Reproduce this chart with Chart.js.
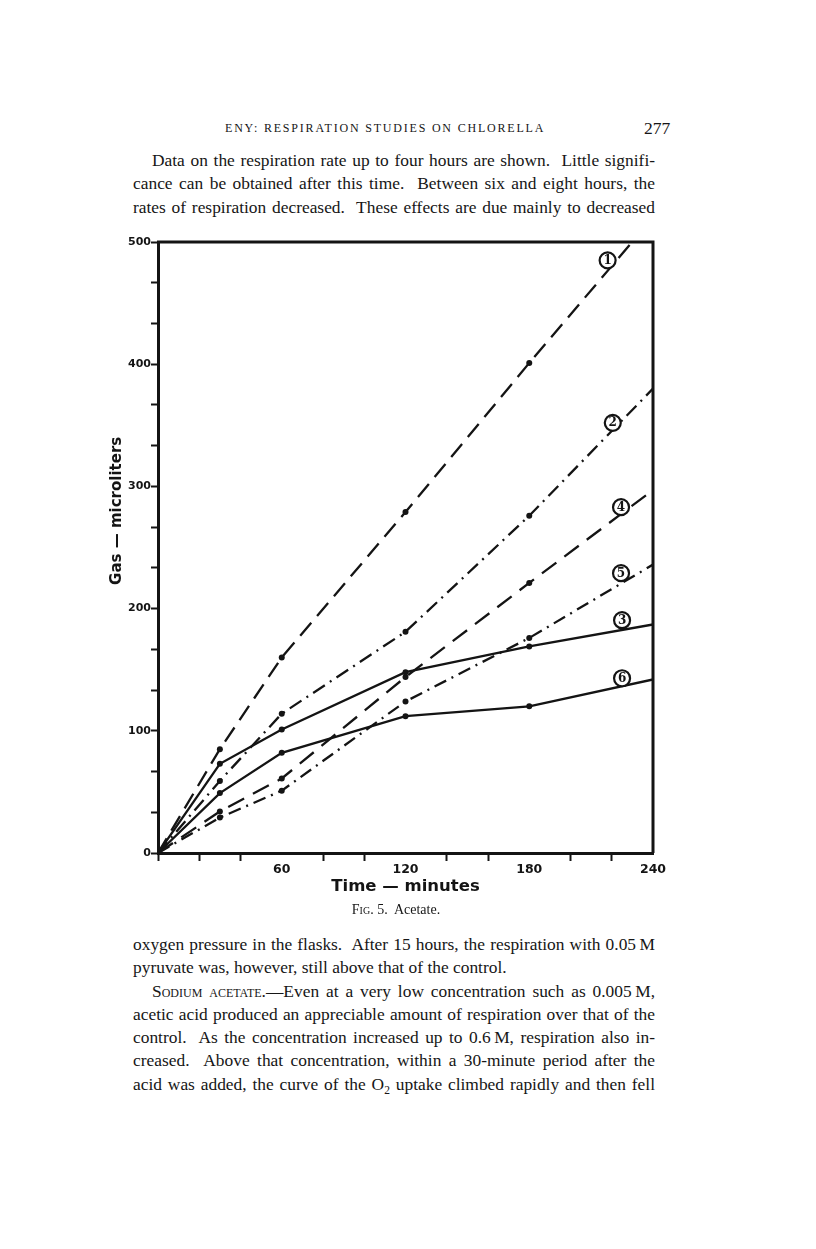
<!DOCTYPE html>
<html>
<head>
<meta charset="utf-8">
<title>Fig. 5. Acetate</title>
<script src="https://cdn.jsdelivr.net/npm/chart.js@4.4.1/dist/chart.umd.min.js"></script>
<style>
  html, body { margin: 0; padding: 0; background: #fff; }
  body { width: 816px; height: 1249px; position: relative; overflow: hidden; color: #161616; font-family: "Liberation Serif", "DejaVu Serif", serif; }
  .runhead { position: absolute; top: 121px; left: 225px; font-size: 12px; letter-spacing: 1.8px; white-space: nowrap; }
  .folio { position: absolute; top: 118px; left: 644px; font-size: 17.5px; }
  .block { position: absolute; left: 133px; width: 522px; font-size: 17.4px; line-height: 23.3px; }
  .block div { white-space: nowrap; text-align: justify; text-align-last: justify; }
  .block div.ind { padding-left: 19px; }
  .block div.end { text-align-last: left; }
  .sc { font-variant: small-caps; }
  sub { font-size: 11.5px; line-height: 0; }
  .caption { position: absolute; top: 902px; left: 0; width: 792px; text-align: center; font-size: 14px; }
  #wrap { position: absolute; left: 90px; top: 225px; width: 580px; height: 690px; }
</style>
</head>
<body>
  <div class="runhead">ENY: RESPIRATION STUDIES ON CHLORELLA</div>
  <div class="folio">277</div>

  <div class="block" style="top:149px">
    <div class="ind">Data on the respiration rate up to four hours are shown.&nbsp; Little signifi-</div>
    <div>cance can be obtained after this time.&nbsp; Between six and eight hours, the</div>
    <div>rates of respiration decreased.&nbsp; These effects are due mainly to decreased</div>
  </div>

  <div id="wrap"><canvas id="chart" width="580" height="690"></canvas></div>

  <div class="caption"><span class="sc">Fig.</span> 5.&nbsp; Acetate.</div>

  <div class="block" style="top:933px">
    <div>oxygen pressure in the flasks.&nbsp; After 15 hours, the respiration with 0.05&#8201;M</div>
    <div class="end">pyruvate was, however, still above that of the control.</div>
    <div class="ind"><span class="sc">Sodium acetate</span>.—Even at a very low concentration such as 0.005&#8201;M,</div>
    <div>acetic acid produced an appreciable amount of respiration over that of the</div>
    <div>control.&nbsp; As the concentration increased up to 0.6&#8201;M, respiration also in-</div>
    <div>creased.&nbsp; Above that concentration, within a 30-minute period after the</div>
    <div>acid was added, the curve of the O<sub>2</sub> uptake climbed rapidly and then fell</div>
  </div>

<script>
  'use strict';

  // Time axis (minutes) and gas uptake (microliters) for the six curves
  const minutes = [0, 30, 60, 120, 180, 240];
  const curve1 = [0, 85, 160, 279, 401, 520];
  const curve2 = [0, 59, 114, 181, 276, 380];
  const curve3 = [0, 73, 101, 148, 169, 187];
  const curve4 = [0, 34, 61, 144, 221, 297];
  const curve5 = [0, 29, 51, 124, 176, 236];
  const curve6 = [0, 49, 82, 112, 120, 142];

  const curveNames = ['1', '2', '3', '4', '5', '6'];
  // where each circled number sits, in [minutes, microliters]
  const labelAt = [[218, 485], [220.5, 352], [225, 190.5], [224.5, 283], [224.5, 229], [225, 143]];

  const xLabelled = [60, 120, 180, 240];
  const yLabelled = [0, 100, 200, 300, 400, 500];

  const INK = '#141414';
  const dashes = [[17, 9], [14, 6, 2, 6], [], [18, 10], [13, 6, 2, 6], []];

  const yTicks = [];
  for (let i = 0; i <= 15; i++) yTicks.push(i * 100 / 3);

  const isYLabel = (v) => yLabelled.some((l) => Math.abs(l - v) < 1e-6);
  const markerRadius = (ctx) => (ctx.dataIndex === 0 || ctx.dataIndex === minutes.length - 1) ? 0 : 3;

  const series = [curve1, curve2, curve3, curve4, curve5, curve6];

  const frameAndLabels = {
    id: 'frameAndLabels',
    afterDatasetsDraw(chart) {
      const { ctx, chartArea: a, scales: { x, y } } = chart;
      ctx.save();
      ctx.strokeStyle = INK;
      ctx.lineWidth = 3;
      ctx.beginPath();
      ctx.moveTo(a.left - 1, a.top);
      ctx.lineTo(a.right, a.top);
      ctx.lineTo(a.right, a.bottom);
      ctx.stroke();

      curveNames.forEach((name, i) => {
        const px = x.getPixelForValue(labelAt[i][0]);
        const py = y.getPixelForValue(labelAt[i][1]);
        ctx.beginPath();
        ctx.arc(px, py, 8, 0, Math.PI * 2);
        ctx.fillStyle = '#fff';
        ctx.fill();
        ctx.lineWidth = 2.2;
        ctx.stroke();
        ctx.fillStyle = INK;
        ctx.font = 'bold 12px "DejaVu Serif"';
        ctx.textAlign = 'center';
        ctx.textBaseline = 'middle';
        ctx.fillText(name, px, py + 0.5);
      });

      // vertical axis title, set a little above the middle as in the figure
      ctx.translate(a.left - 41, a.top + (a.bottom - a.top) * 0.44);
      ctx.rotate(-Math.PI / 2);
      ctx.font = 'bold 15px "DejaVu Sans"';
      ctx.fillText('Gas — microliters', 0, 0);
      ctx.restore();
    }
  };

  new Chart(document.getElementById('chart'), {
    type: 'line',
    data: {
      labels: minutes,
      datasets: series.map((values, i) => ({
        label: curveNames[i],
        data: minutes.map((m, j) => ({ x: m, y: values[j] })),
        borderColor: INK,
        borderWidth: 2.3,
        borderDash: dashes[i],
        tension: 0,
        pointRadius: markerRadius,
        pointBackgroundColor: INK,
        pointBorderWidth: 0
      }))
    },
    options: {
      responsive: false,
      animation: false,
      events: [],
      layout: { padding: { top: 17, right: 17, bottom: 0, left: 0 } },
      plugins: { legend: { display: false }, tooltip: { enabled: false } },
      scales: {
        x: {
          type: 'linear',
          min: 0,
          max: 240,
          afterFit: (scale) => { scale.height = 62; },
          border: { display: true, width: 3, color: INK },
          grid: {
            drawOnChartArea: false,
            drawTicks: true,
            tickLength: 8,
            tickWidth: 2,
            tickColor: (ctx) => (ctx.tick && xLabelled.includes(ctx.tick.value)) ? 'rgba(0,0,0,0)' : INK
          },
          ticks: {
            stepSize: 20,
            padding: 1,
            maxRotation: 0,
            autoSkip: false,
            color: INK,
            font: { family: '"DejaVu Sans"', size: 12.5, weight: 'bold' },
            callback: (v) => xLabelled.includes(v) ? String(v) : ''
          },
          title: {
            display: true,
            text: 'Time — minutes',
            color: INK,
            font: { family: '"DejaVu Sans"', size: 16.5, weight: 'bold' },
            padding: { top: 0, bottom: 18 }
          }
        },
        y: {
          type: 'linear',
          min: 0,
          max: 500,
          afterFit: (scale) => { scale.width = 68; },
          afterBuildTicks: (scale) => { scale.ticks = yTicks.map((v) => ({ value: v })); },
          border: { display: true, width: 3, color: INK },
          grid: { drawOnChartArea: false, drawTicks: true, tickLength: 7, tickWidth: 2, tickColor: INK },
          ticks: {
            padding: 0,
            autoSkip: false,
            color: INK,
            font: { family: '"DejaVu Sans"', size: 11, weight: 'bold' },
            callback: (v) => isYLabel(v) ? String(Math.round(v)) : ''
          }
        }
      }
    },
    plugins: [frameAndLabels]
  });
</script>
</body>
</html>
